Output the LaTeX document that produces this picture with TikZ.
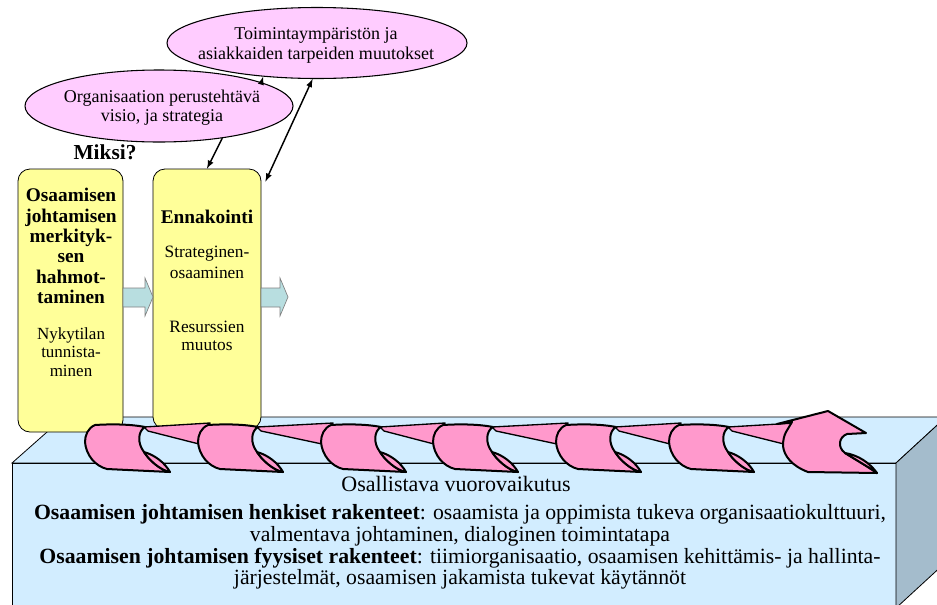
\documentclass[tikz,border=0pt]{standalone}
\usepackage{fontspec}
\setmainfont{Liberation Serif}
\usetikzlibrary{shapes.geometric}
\definecolor{keltainen}{RGB}{255,255,153}
\definecolor{lila}{RGB}{255,204,255}
\definecolor{roosa}{RGB}{255,153,204}
\definecolor{vaaleansininen}{RGB}{210,237,255}
\definecolor{harmaansininen}{RGB}{164,188,204}
\definecolor{turkoosi}{RGB}{184,222,224}
\begin{document}
\begin{tikzpicture}[x=0.75pt,y=-0.75pt,
  ybox/.style={draw,fill=keltainen,rounded corners=9pt,line width=0.6pt},
  oval/.style={ellipse,draw,fill=lila,line width=0.8pt,inner sep=0pt},
  kierre/.style={fill=roosa,draw=black,line width=1.5pt,line join=round},
  nuoli/.style={line width=1.1pt,-latex},
  lohko/.style={fill=turkoosi,draw=gray,line width=0.5pt}]
				  \clip (0,0) rectangle (937,604);
				  \draw[fill=vaaleansininen,line width=0.6pt] (12,463) -- (64,417) -- (946,417) -- (896,463) -- cycle;
				  \draw[fill=vaaleansininen,line width=0.6pt] (12,463) rectangle (896,608);
				  \draw[fill=harmaansininen,line width=0.6pt] (896,463) -- (946,417) -- (946,562) -- (896,608) -- cycle;
				  \node[ybox,minimum width=78.75pt,minimum height=197.25pt] (merkitys) at (70.5,300.5) {};
				  \node[ybox,minimum width=81pt,minimum height=195pt] (ennakointi) at (207,299) {};
				  \draw[lohko] (123,288) -- (145,288) -- (145,278) -- (153,297) -- (145,316) -- (145,307) -- (123,307) -- cycle;
				  \draw[lohko] (261,288) -- (280,288) -- (280,278) -- (288,297) -- (280,316) -- (280,307) -- (261,307) -- cycle;
				  \node[oval,minimum width=225pt,minimum height=53.25pt] (muutokset) at (317,43) {};
				  \node[oval,minimum width=201pt,minimum height=54pt] (visio) at (159,106) {};
				  \node[align=center,font=\fontsize{13.5}{15}\selectfont] (muutosteksti) at (316,45) {Toimintaympäristön ja\\asiakkaiden tarpeiden muutokset};
				  \node[align=center,font=\fontsize{13.5}{14.3}\selectfont] (visioteksti) at (162,107.5) {Organisaation perustehtävä\\visio,  ja strategia};
				  \draw[nuoli] (visio.13) -- (muutokset.212);
				  \draw[nuoli] (visio.-27) -- (ennakointi.north);
				  \draw[nuoli,latex-latex] (muutokset.263) -- ([shift={(4,13)}]ennakointi.north east);
				  \node[font=\bfseries\fontsize{16}{18}\selectfont] (miksi) at (105,152) {Miksi?};
				  \node[align=center,font=\bfseries\fontsize{14.5}{15.3}\selectfont] (merkitysotsikko) at (71,246) {Osaamisen\\johtamisen\\merkityk-\\sen\\hahmot-\\taminen};
				  \node[align=center,font=\fontsize{12.75}{13.9}\selectfont] (nykytila) at (71,352) {Nykytilan\\tunnista-\\minen};
				  \node[font=\bfseries\fontsize{14.5}{15.3}\selectfont] (ennakointiotsikko) at (207,217) {Ennakointi};
				  \node[align=center,font=\fontsize{13}{15.75}\selectfont] (osaaminen) at (207,262.5) {Strateginen-\\osaaminen};
				  \node[align=center,font=\fontsize{13}{13.5}\selectfont] (resurssit) at (207,336) {Resurssien\\muutos};
				  \foreach \x/\seur in {85/198,198/321,321/433,433/556,556/669,669/783} {
				    \draw[kierre,shift={(\x,0)}] (10,425) .. controls (3,428) and (0,435) .. (0,442) .. controls (1,455) and (10,466) .. (22,469) -- (85,472) .. controls (75,470) and (64,460) .. (59,452) .. controls (52,443) and (53,431) .. (60,427) .. controls (45,424) and (25,424) .. cycle;
				    \draw[kierre,shift={(\x,0)}] (59,452) .. controls (70,455) and (80,463) .. (85,472) .. controls (75,470) and (64,460) .. (59,452) -- cycle;
				    \draw[kierre,line width=1pt] (\x+59,427) -- (\seur+12,423) -- (\seur+1,444) -- (\x+63,431) -- cycle;
				  }
				  \draw[kierre] (786,432) -- (792,422) -- (777,424) -- (828,411) -- (866,433) -- (847,434) .. controls (839,437) and (837,447) .. (845,453) .. controls (858,461) and (870,468) .. (877,473) -- (808,472) .. controls (792,466) and (784,456) .. (783,446) .. controls (783,440) and (784,436) .. (786,432) -- cycle;
				  \draw[kierre] (845,453) .. controls (858,455) and (870,463) .. (877,473) .. controls (870,468) and (858,461) .. (845,453) -- cycle;
				  \node[font=\fontsize{16.5}{18}\selectfont] (vuorovaikutus) at (456,484) {Osallistava vuorovaikutus};
				  \node[align=center,font=\fontsize{16.3}{16.3}\selectfont] (rakenteet) at (460,547) {\textbf{Osaamisen johtamisen henkiset rakenteet}: osaamista ja oppimista tukeva organisaatiokulttuuri,\\valmentava johtaminen, dialoginen toimintatapa\\\textbf{Osaamisen johtamisen fyysiset rakenteet}: tiimiorganisaatio, osaamisen kehittämis- ja hallinta-\\järjestelmät, osaamisen jakamista tukevat käytännöt};
				\end{tikzpicture}
\end{document}
